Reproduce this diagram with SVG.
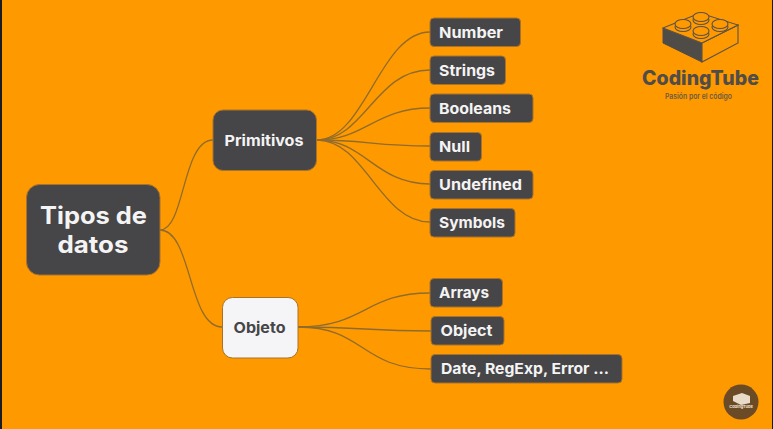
<svg xmlns="http://www.w3.org/2000/svg" width="773" height="429" viewBox="0 0 773 429">
<style>
.n{fill:#464547;stroke:#a9722a;stroke-width:1}
.t{font-family:Inter,"Liberation Sans",sans-serif;font-weight:700;fill:#f4f4f4;font-size:15px}
.c{fill:none;stroke:#8f6c2c;stroke-width:1.3}
.b{fill:#ff9900;stroke:#5a5248;stroke-width:1.1}
</style>
<rect width="773" height="429" fill="#ff9900"/>
<rect x="0" y="0" width="2" height="429" fill="#1c1c20"/>
<rect x="772" y="0" width="1" height="429" fill="#1c1c20"/>
<g id="connectors">
<path class="c" d="M160 230C185 230 182 140 213 140"/>
<path class="c" d="M160 230C192 230 188 327 222 327"/>
<path class="c" d="M317 140C365 140 380 32 430 32"/>
<path class="c" d="M317 140C365 140 375 70 430 70"/>
<path class="c" d="M317 140C365 140 375 108 430 108"/>
<path class="c" d="M317 140C365 140 375 146 430 146"/>
<path class="c" d="M317 140C365 140 375 184 430 184"/>
<path class="c" d="M317 140C365 140 380 222 430 222"/>
<path class="c" d="M298 327C365 327 365 293 430 293"/>
<path class="c" d="M298 327C365 327 365 331 431 331"/>
<path class="c" d="M298 327C365 327 360 369 431 369"/>
</g>
<g id="tipos"><rect class="n" x="26.500" y="184.500" width="133.500" height="90.500" rx="13"/><text class="t" style="font-size:24px" x="93.500" y="224" text-anchor="middle" textLength="107" lengthAdjust="spacingAndGlyphs">Tipos de</text><text class="t" style="font-size:24px" x="93" y="253" text-anchor="middle" textLength="71" lengthAdjust="spacingAndGlyphs">datos</text></g>
<g id="primitivos"><rect class="n" x="213" y="110" width="103.500" height="60.500" rx="10"/><text class="t" x="224.500" y="146" textLength="79" lengthAdjust="spacingAndGlyphs">Primitivos</text></g>
<g id="objeto"><rect x="222.500" y="297.500" width="75.500" height="60.500" rx="10" fill="#f5f5f7" stroke="#a9722a"/><text class="t" style="fill:#464547" x="233.500" y="333" textLength="52" lengthAdjust="spacingAndGlyphs">Objeto</text></g>
<g id="number"><rect class="n" x="430" y="18" width="90.500" height="28.500" rx="4"/><text class="t" x="439" y="38" textLength="64" lengthAdjust="spacingAndGlyphs">Number</text></g>
<g id="strings"><rect class="n" x="430" y="56" width="75.500" height="28.500" rx="4"/><text class="t" x="439" y="76" textLength="56" lengthAdjust="spacingAndGlyphs">Strings</text></g>
<g id="booleans"><rect class="n" x="430" y="94" width="103" height="28.500" rx="4"/><text class="t" x="439" y="114" textLength="72" lengthAdjust="spacingAndGlyphs">Booleans</text></g>
<g id="null"><rect class="n" x="430" y="132.500" width="51.500" height="28.500" rx="4"/><text class="t" x="439" y="152" textLength="31" lengthAdjust="spacingAndGlyphs">Null</text></g>
<g id="undefined"><rect class="n" x="430" y="170.500" width="103" height="28.500" rx="4"/><text class="t" x="439" y="190" textLength="83" lengthAdjust="spacingAndGlyphs">Undefined</text></g>
<g id="symbols"><rect class="n" x="430" y="208.500" width="85" height="28.500" rx="4"/><text class="t" x="439" y="228" textLength="66" lengthAdjust="spacingAndGlyphs">Symbols</text></g>
<g id="arrays"><rect class="n" x="430" y="278.500" width="72.500" height="28.500" rx="4"/><text class="t" x="439" y="298" textLength="50" lengthAdjust="spacingAndGlyphs">Arrays</text></g>
<g id="object"><rect class="n" x="431" y="316.500" width="73" height="28.500" rx="4"/><text class="t" x="440.500" y="336" textLength="52" lengthAdjust="spacingAndGlyphs">Object</text></g>
<g id="date"><rect class="n" x="431" y="354.500" width="191" height="28.500" rx="4"/><text class="t" x="441" y="374" textLength="168" lengthAdjust="spacingAndGlyphs">Date, RegExp, Error ...</text></g>
<g id="logo">
<path d="M663 28L702 43L702 62L663 43Z" fill="#4f4c48" stroke="#4f4c48"/>
<path d="M702 43L738 25L738 43L702 62Z" fill="#ff9900" stroke="#5a5248" stroke-width="1.100"/>
<path d="M663 28L700 13L738 25L702 43Z" fill="#ff9900" stroke="#5a5248" stroke-width="1.100"/>
<g class="b">
<ellipse cx="683" cy="27" rx="8" ry="4.500"/><ellipse cx="683" cy="24" rx="8" ry="4.500"/>
<ellipse cx="701" cy="20" rx="8" ry="4.500"/><ellipse cx="701" cy="17" rx="8" ry="4.500"/>
<ellipse cx="720" cy="27" rx="8" ry="4.500"/><ellipse cx="720" cy="24" rx="8" ry="4.500"/>
<ellipse cx="701" cy="34" rx="8" ry="4.500"/><ellipse cx="701" cy="31" rx="8" ry="4.500"/>
</g>
<text x="642" y="85" font-family="Inter,'Liberation Sans',sans-serif" font-weight="800" font-size="20" fill="#504c48" textLength="117" lengthAdjust="spacingAndGlyphs">CodingTube</text>
<text x="665" y="99" font-family="Inter,'Liberation Sans',sans-serif" font-weight="600" font-size="7.500" fill="#6a5a40" textLength="67" lengthAdjust="spacingAndGlyphs">Pasión por el código</text>
</g>
<g id="badge">
<circle cx="741" cy="402" r="17.500" fill="#6b4a26"/>
<path d="M733 396L742 393L750 396L750 403L741 405L733 401Z" fill="#e8dcc8"/>
<text x="741" y="408" text-anchor="middle" font-family="Inter,'Liberation Sans',sans-serif" font-weight="700" font-size="4" fill="#f0e6d6">CodingTube</text>
</g>
</svg>
